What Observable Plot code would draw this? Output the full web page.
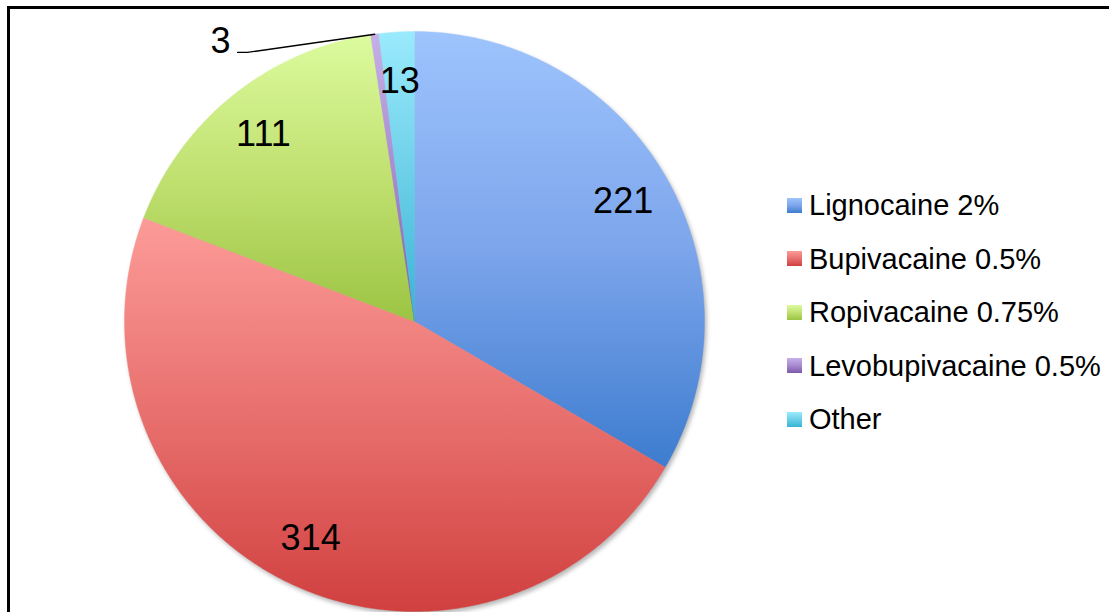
<!DOCTYPE html>
<html>
<head>
<meta charset="utf-8">
<script src="https://cdn.jsdelivr.net/npm/d3@7"></script>
<script src="https://cdn.jsdelivr.net/npm/@observablehq/plot@0.6"></script>
<style>
  html, body { margin: 0; padding: 0; background: #fff; overflow: hidden; }
  #wrap { position: relative; width: 1109px; height: 612px; font-family: "Liberation Sans", Arial, Helvetica, sans-serif; }
  #frame { position: absolute; left: 7px; top: 6px; width: 1200px; height: 700px; border-top: 3px solid #000; border-left: 3px solid #000; pointer-events: none; }
  #legend { position: absolute; left: 787px; top: 0; }
  .row { position: absolute; left: 0; height: 30px; white-space: nowrap; display: flex; align-items: center; }
  .sw { width: 15px; height: 15px; margin-right: 7px; }
  .lt { font-size: 29px; color: #000; line-height: 30px; }
  #chart { position: absolute; left: 0; top: 0; }
</style>
</head>
<body>
<div id="wrap">
  <div id="chart"></div>
  <div id="frame"></div>
  <div id="legend"></div>
</div>
<script>
// ---- data ----
const categories = ["Lignocaine 2%", "Bupivacaine 0.5%", "Ropivacaine 0.75%", "Levobupivacaine 0.5%", "Other"];
const values = [221, 314, 111, 3, 13];

// ---- styles (gradient stops: top, middle, bottom) ----
const gradTop    = ["#9ec4fd", "#fc9b98", "#dcfb9e", "#c6b0e8", "#9aeafc"];
const gradMid    = ["#7ca5eb", "#e8706e", "#c0e070", "#a88ad0", "#6ccfe8"];
const gradBottom = ["#3d7ccf", "#d0403f", "#9cc443", "#7b5aa8", "#38b3d6"];

const W = 1109, H = 612;
const cx = 414, cy = 321, R = 290;
const labelFrac = 0.83;

const arcs = d3.pie().sort(null).value(d => d)(values);
const gid = i => `url(#slice-grad-${i})`;

// slice polygons in unit coordinates
const points = [];
arcs.forEach((a, i) => {
  const n = Math.max(4, Math.ceil((a.endAngle - a.startAngle) / (Math.PI / 360)));
  points.push({u: 0, v: 0, key: i, fill: gid(i)});
  for (let k = 0; k <= n; k++) {
    const t = a.startAngle + (a.endAngle - a.startAngle) * k / n;
    points.push({u: Math.sin(t), v: Math.cos(t), key: i, fill: gid(i)});
  }
  points.push({u: 0, v: 0, key: i, fill: gid(i)});
});

// labels
const inside = [], outside = [];
arcs.forEach((a, i) => {
  const m = (a.startAngle + a.endAngle) / 2;
  const d = {text: String(values[i]), m, i};
  if (a.endAngle - a.startAngle < 0.04) outside.push(d); else inside.push({...d, u: labelFrac * Math.sin(m), v: labelFrac * Math.cos(m)});
});
// callout for tiny slices
const elbow = {u: -0.576, v: 0.928}, tail = {u: -0.610, v: 0.928};
const leader = [];
outside.forEach(d => {
  leader.push({u: Math.sin(d.m), v: Math.cos(d.m), k: d.i});
  leader.push({u: elbow.u, v: elbow.v, k: d.i});
  leader.push({u: tail.u, v: tail.v, k: d.i});
});
const outLabels = outside.map(d => ({text: d.text, u: -0.634, v: 0.966}));

const defsMark = () => {
  const g = d3.create("svg:g");
  const defs = g.append("defs");
  values.forEach((_, i) => {
    const lg = defs.append("linearGradient").attr("id", `slice-grad-${i}`)
      .attr("x1", 0).attr("y1", 0).attr("x2", 0).attr("y2", 1);
    lg.append("stop").attr("offset", "0%").attr("stop-color", gradTop[i]);
    lg.append("stop").attr("offset", "50%").attr("stop-color", gradMid[i]);
    lg.append("stop").attr("offset", "100%").attr("stop-color", gradBottom[i]);
  });
  return g.node();
};

const chart = Plot.plot({
  width: W, height: H,
  marginTop: 0, marginRight: 0, marginBottom: 0, marginLeft: 0,
  x: {domain: [-cx / R, (W - cx) / R], range: [0, W], axis: null},
  y: {domain: [(cy - H) / R, cy / R], range: [H, 0], axis: null},
  color: {type: "identity"},
  style: {fontFamily: '"Liberation Sans", Arial, Helvetica, sans-serif', background: "transparent", overflow: "visible"},
  marks: [
    defsMark,
    Plot.line(points, {x: "u", y: "v", z: "key", fill: "fill", stroke: "fill", strokeWidth: 0.4, curve: "linear"}),
    Plot.line(leader, {x: "u", y: "v", z: "k", stroke: "#000", strokeWidth: 1.4}),
    Plot.text(inside, {x: "u", y: "v", text: "text", fontSize: 36, fill: "#000"}),
    Plot.text(outLabels, {x: "u", y: "v", text: "text", fontSize: 36, fill: "#000", textAnchor: "end"})
  ]
});
document.getElementById("chart").appendChild(chart);
const sliceGroup = chart.querySelector('g[aria-label="line"]');
if (sliceGroup) sliceGroup.style.filter = "drop-shadow(2px 3px 2px rgba(0,0,0,0.28))";

// legend
const legend = document.getElementById("legend");
const rowCenters = [205, 258.5, 312, 365.5, 419];
categories.forEach((c, i) => {
  const row = document.createElement("div");
  row.className = "row";
  row.style.top = (rowCenters[i] - 15) + "px";
  const sw = document.createElement("div");
  sw.className = "sw";
  sw.style.background = `linear-gradient(${gradTop[i]}, ${gradMid[i]}, ${gradBottom[i]})`;
  const t = document.createElement("span");
  t.className = "lt";
  t.textContent = c;
  row.appendChild(sw); row.appendChild(t);
  legend.appendChild(row);
});
</script>
</body>
</html>
